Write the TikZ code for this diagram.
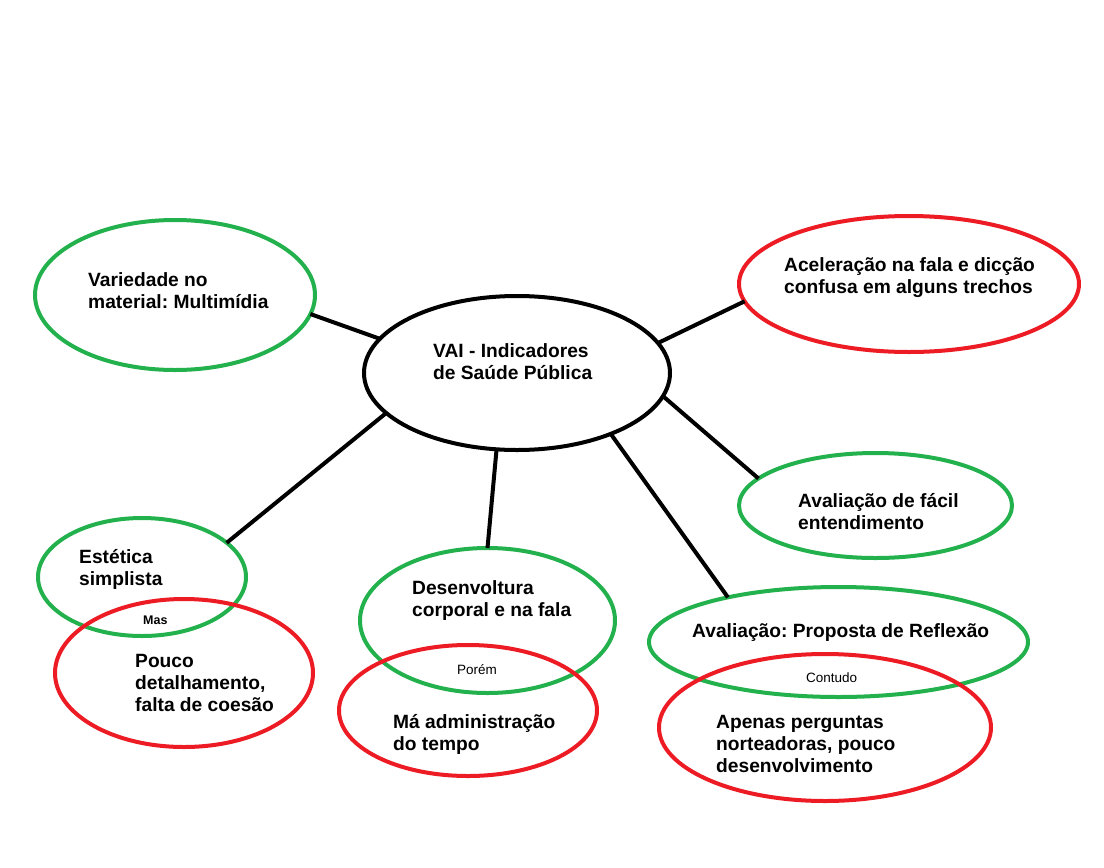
\documentclass[tikz,border=0pt]{standalone}
\usepackage{fontspec}
\setmainfont{Liberation Sans}
\usetikzlibrary{shapes.geometric}
\definecolor{paintgreen}{HTML}{22B14C}
\definecolor{paintred}{HTML}{ED1C24}
\frenchspacing
% left-aligned block whose baseline is the first line's baseline
\newcommand\lefttext[1]{\begin{tabular}[t]{@{}l@{}}#1\end{tabular}}
\begin{document}
\begin{tikzpicture}[x=1pt,y=1pt,
  bubble/.style={ellipse, draw, line width=4pt, inner sep=0pt, outer sep=0pt},
  pro/.style={bubble, draw=paintgreen},
  con/.style={bubble, draw=paintred},
  hub/.style={bubble, draw=black},
  link/.style={draw=black, line width=4pt},
  label/.style={anchor=base west, inner sep=0pt, font=\fontsize{19.2}{22}\selectfont\bfseries},
  joiner/.style={anchor=base west, inner sep=0pt, font=\fontsize{13.5}{15}\selectfont}
]
% canvas
\fill[white] (0,0) rectangle (1104,-868);
\useasboundingbox (0,0) rectangle (1104,-868);

% positive points
\node[pro, minimum width=280pt, minimum height=150pt] (variedade) at (175,-295) {};
\node[pro, minimum width=273pt, minimum height=105pt] (facil) at (875.5,-505.5) {};
\node[pro, minimum width=208pt, minimum height=118pt] (estetica) at (142,-577) {};
\node[pro, minimum width=255pt, minimum height=145pt] (desenvoltura) at (487.5,-620.5) {};
\node[pro, minimum width=379pt, minimum height=110pt] (proposta) at (838.5,-642) {};

% central topic
\node[hub, minimum width=306pt, minimum height=154pt] (vai) at (517,-373) {};

% negative points
\node[con, minimum width=340pt, minimum height=136pt] (aceleracao) at (909,-284) {};
\node[con, minimum width=258pt, minimum height=148pt] (pouco) at (184,-673) {};
\node[con, minimum width=258pt, minimum height=131pt] (ma) at (468,-710.5) {};
\node[con, minimum width=332pt, minimum height=147pt] (apenas) at (825,-727.5) {};

% spokes from the centre
\draw[link] (vai.166.8) -- (variedade.352.2);
\draw[link] (vai.12.6) -- (aceleracao.186.6);
\draw[link] (vai.351.9) -- (facil.167.6);
\draw[link] (vai.197.9) -- (estetica.22.6);
\draw[link] (vai.255.8) -- (desenvoltura.90);
\draw[link] (vai.327.6) -- (proposta.158);

% texts
\node[label] (tvai) at (433,-357) {\lefttext{VAI - Indicadores\\de Saúde Pública}};
\node[label] (tvariedade) at (88,-286) {\lefttext{Variedade no\\material: Multimídia}};
\node[label] (taceleracao) at (784,-271) {\lefttext{Aceleração na fala e dicção\\confusa em alguns trechos}};
\node[label] (tfacil) at (798,-507) {\lefttext{Avaliação de fácil\\entendimento}};
\node[label] (testetica) at (79,-563) {\lefttext{Estética\\simplista}};
\node[label] (tpouco) at (135,-667) {\lefttext{Pouco\\detalhamento,\\falta de coesão}};
\node[label] (tdesenvoltura) at (412,-594) {\lefttext{Desenvoltura\\corporal e na fala}};
\node[label] (tma) at (393,-728) {\lefttext{Má administração\\do tempo}};
\node[label] (tproposta) at (692,-637) {Avaliação: Proposta de Reflexão};
\node[label] (tapenas) at (716,-728) {\lefttext{Apenas perguntas\\norteadoras, pouco\\desenvolvimento}};

\node[joiner, font=\fontsize{12.5}{15}\selectfont\bfseries] (mas) at (143,-624) {Mas};
\node[joiner] (porem) at (457,-674) {Porém};
\node[joiner] (contudo) at (806,-682) {Contudo};
\end{tikzpicture}
\end{document}
